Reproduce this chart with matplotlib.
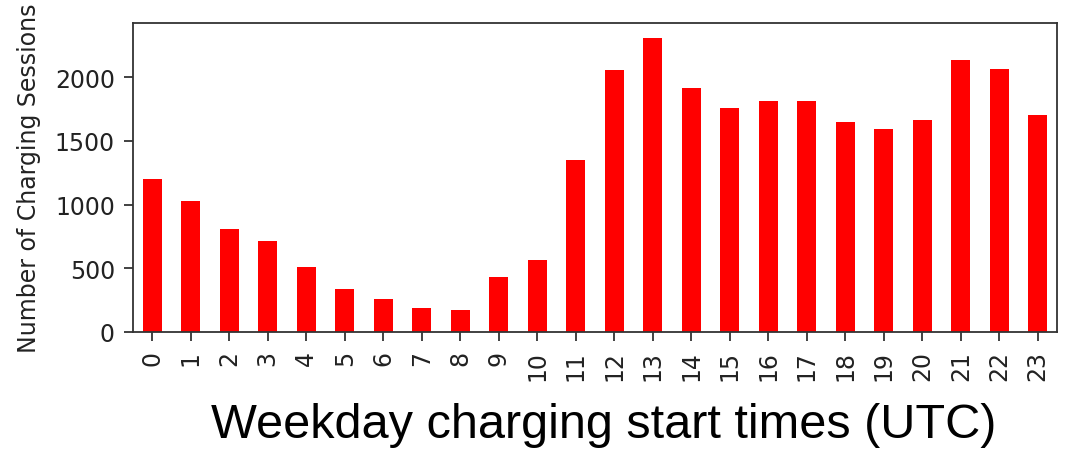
import numpy as np
import matplotlib.pyplot as plt

plt.rcParams['font.family'] = ['DejaVu Sans']

# sessions started per hour of the day (weekdays)
hours = [str(h) for h in range(24)]
sessions = [1203, 1028, 811, 714, 514, 336, 256, 188, 175, 433, 569, 1351,
            2055, 2311, 1919, 1758, 1813, 1813, 1649, 1596, 1664, 2136, 2068, 1703]
yticks = [0, 500, 1000, 1500, 2000]

fig = plt.figure(figsize=(10.68, 4.52), dpi=100)
ax = fig.add_axes([133/1068, 119/452, 924/1068, 309/452])

x = np.arange(len(hours))
ax.bar(x, sessions, width=0.5, color="red")
ax.set_xticks(x)
ax.set_xticklabels(hours, rotation=90)
ax.set_xlim(-0.5, len(hours) - 0.5)
ax.set_ylim(0, max(sessions) * 1.05)
ax.set_yticks(yticks)

ax.tick_params(labelsize=17, length=6.5, width=1.3, pad=6.5,
               color="#333333", labelcolor="#222222")
for s in ax.spines.values():
    s.set_linewidth(1.3)
    s.set_color("#333333")

# y label, long enough to reach the top edge
fig.text(29/1068, (452-353)/452, "Number of Charging Sessions", fontsize=17,
         color="#222222", rotation=90, ha="center", va="bottom")

fig.text(0.565, 0.03, "Weekday charging start times (UTC)", fontsize=35,
         family="Liberation Sans", ha="center", va="baseline")

fig.savefig("out.png", dpi=100)
